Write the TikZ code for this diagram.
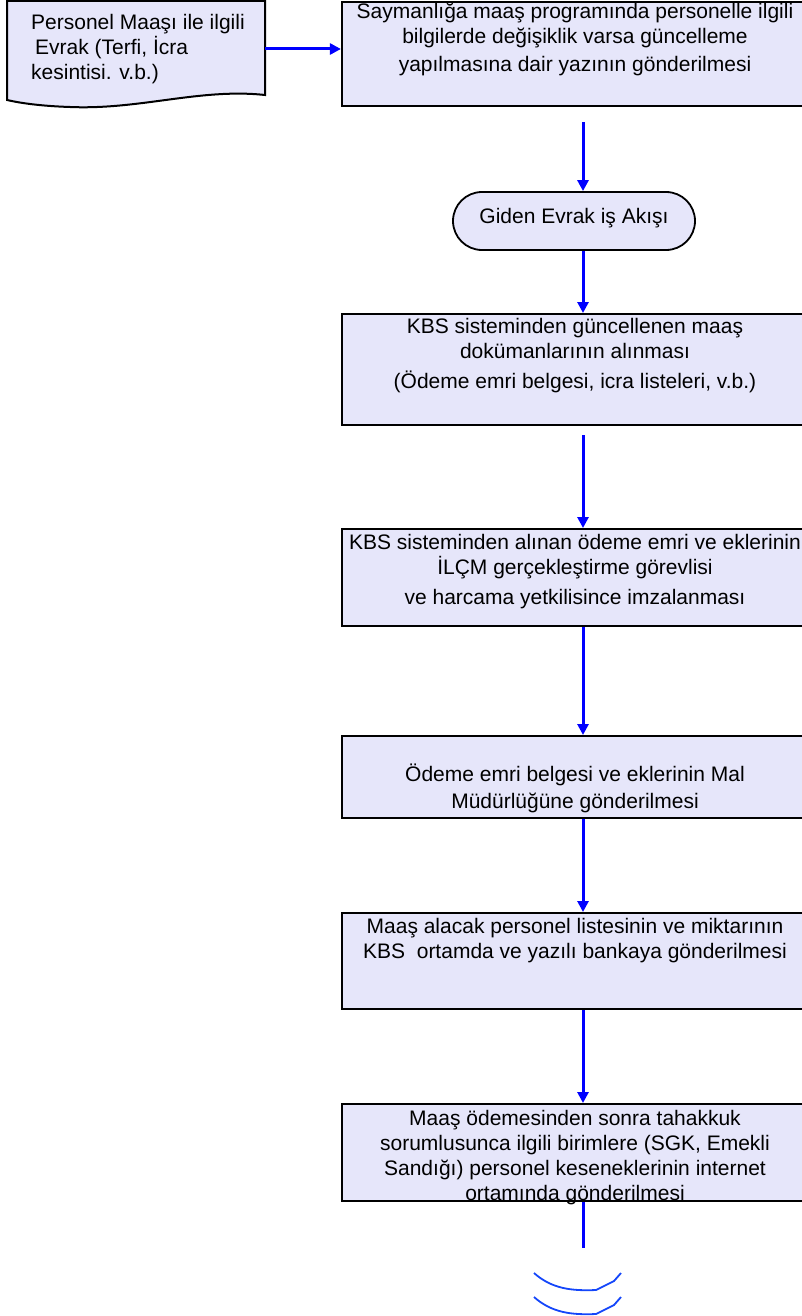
\documentclass[tikz,border=0pt]{standalone}
\usepackage{fontspec}
\setmainfont{Liberation Sans}
\usetikzlibrary{arrows.meta,shapes.misc}

\definecolor{boxfill}{RGB}{230,230,250}
\definecolor{arcblue}{RGB}{20,70,250}
\newcommand{\tstrut}{\rule{0pt}{19pt}}

\begin{document}
\begin{tikzpicture}[x=1pt,y=-1pt,
	flow/.style={draw=blue,line width=3pt,-{Triangle[length=11pt,width=11pt]}},
	flow line/.style={draw=blue,line width=3pt},
	proc box/.style={draw,line width=2.2pt,fill=boxfill,minimum width=466pt,inner sep=0pt,anchor=north},
	term node/.style={rounded rectangle,draw,line width=1.8pt,fill=boxfill,minimum width=242pt,minimum height=58pt,inner sep=0pt},
	txt/.style={font=\fontsize{21}{25}\selectfont,align=center,inner sep=0pt,anchor=north}
]

	\useasboundingbox (0,0) rectangle (802,1316);

	% document shape
	\draw[line width=2pt,fill=boxfill] (7,1) -- (265,1) -- (265,95)
		.. controls (200,88) and (140,110) .. (70,107)
		.. controls (40,106) and (20,103) .. (7,100) -- cycle;
	\node[txt,align=left,anchor=north west] (doc) at (31,10) {\tstrut Personel Maaşı ile ilgili\\\hspace*{4pt}Evrak (Terfi, İcra\\kesintisi. v.b.)};
	\coordinate (de) at (265,49);

	% boxes
	\node[proc box,minimum height=104pt] (b1) at (575,1) {};
	\node[term node,font=\fontsize{21}{25}\selectfont,text depth=11pt] (tm) at (574,221) {Giden Evrak iş Akışı};
	\node[proc box,minimum height=111pt] (b2) at (575,313) {};
	\node[proc box,minimum height=97pt] (b3) at (575,528) {};
	\node[proc box,minimum height=82pt] (b4) at (575,735) {};
	\node[proc box,minimum height=96pt] (b5) at (575,912) {};
	\node[proc box,minimum height=97pt] (b6) at (575,1103) {};

	% texts
	\node[txt] (t1) at (575,-1) {\tstrut Saymanlığa maaş programında personelle ilgili\\bilgilerde değişiklik varsa güncelleme\\[3pt]yapılmasına dair yazının gönderilmesi};
	\node[txt] (t2) at (575,314) {\tstrut KBS sisteminden güncellenen maaş\\dokümanlarının alınması\\[5pt](Ödeme emri belgesi, icra listeleri, v.b.)};
	\node[txt] (t3) at (575,530) {\tstrut KBS sisteminden alınan ödeme emri ve eklerinin\\İLÇM gerçekleştirme görevlisi\\[5pt]ve harcama yetkilisince imzalanması};
	\node[txt] (t4) at (575,762) {\tstrut Ödeme emri belgesi ve eklerinin Mal\\[2pt]Müdürlüğüne gönderilmesi};
	\node[txt] (t5) at (575,914) {\tstrut Maaş alacak personel listesinin ve miktarının\\KBS\ \ ortamda ve yazılı bankaya gönderilmesi};
	\node[txt] (t6) at (575,1106) {\tstrut Maaş ödemesinden sonra tahakkuk\\sorumlusunca ilgili birimlere (SGK, Emekli\\Sandığı) personel keseneklerinin internet\\ortamında gönderilmesi};

	% connectors
	\coordinate (ax) at (583,0);
	\coordinate (cn) at (583,1248);
	\draw[flow] (de) -- (b1.west |- de);
	\draw[flow,shorten <=15pt] (b1.south -| ax) -- (tm.north -| ax);
	\draw[flow] (tm.south -| ax) -- (b2.north -| ax);
	\draw[flow,shorten <=9pt] (b2.south -| ax) -- (b3.north -| ax);
	\draw[flow] (b3.south -| ax) -- (b4.north -| ax);
	\draw[flow] (b4.south -| ax) -- (b5.north -| ax);
	\draw[flow] (b5.south -| ax) -- (b6.north -| ax);
	\draw[flow line] (b6.south -| ax) -- (cn);

	% off-page connector
	\foreach \dy in {0,24} {
		\draw[arcblue,line width=1.8pt] (534,{1273+\dy}) .. controls (552,{1289+\dy}) and (572,{1291+\dy}) .. (596,{1290+\dy}) -- (614,{1281+\dy}) -- (621,{1273+\dy});
	}
\end{tikzpicture}
\end{document}
